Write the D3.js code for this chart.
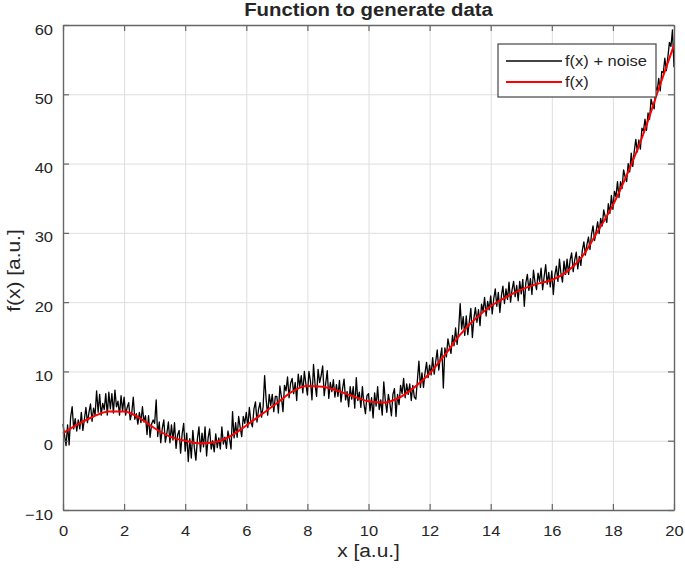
<!DOCTYPE html>
<html>
<head>
<meta charset="utf-8">
<script src="https://cdn.jsdelivr.net/npm/d3@7"></script>
<style>
  body { margin: 0; background: #fff; }
  text { font-family: "Liberation Sans", Arial, Helvetica, sans-serif; fill: #262626; }
</style>
</head>
<body>
<div id="chart"></div>
<script>
// ---- data ----
const xTicks = [0, 2, 4, 6, 8, 10, 12, 14, 16, 18, 20];
const yTicks = [-10, 0, 10, 20, 30, 40, 50, 60];

// f(x), sampled every 0.5
const fx = [0, 0.5, 1, 1.5, 2, 2.5, 3, 3.5, 4, 4.5, 5, 5.5, 6, 6.5, 7, 7.5, 8, 8.5, 9, 9.5,
            10, 10.5, 11, 11.5, 12, 12.5, 13, 13.5, 14, 14.5, 15, 15.5, 16, 16.5, 17, 17.5, 18, 18.5, 19, 19.5, 20];
const fy = [1.1, 2.4, 3.5, 4.2, 4.2, 3.3, 1.8, 0.6, 0.0, -0.4, -0.2, 0.7, 2.2, 3.8, 5.4, 7.1, 7.9, 7.8, 7.2, 6.4,
            5.7, 5.5, 6.2, 7.7, 9.7, 12.4, 15.3, 17.6, 19.4, 20.7, 21.8, 22.6, 23.2, 24.4, 26.6, 30.2, 34.0, 38.8, 44.3, 50.8, 57.1];

// f(x) + noise, 401 samples on 0..20 (step 0.05)
const noisy = [
  2.4, 0.8, -0.7, 2.3, -0.6, 3.4, 4.9, 1.7, 3.2, 1.4,
  3.0, 1.7, 4.1, 1.5, 3.1, 4.8, 2.6, 4.1, 5.3, 2.8,
  4.7, 3.7, 7.2, 4.1, 6.7, 3.7, 5.4, 4.5, 6.8, 3.7,
  7.0, 4.6, 6.8, 4.0, 7.3, 4.9, 5.7, 3.7, 6.5, 4.3,
  6.3, 3.7, 4.8, 5.5, 3.0, 4.0, 6.3, 3.1, 3.9, 2.4,
  4.1, 2.6, 4.9, 2.7, 3.6, 0.9, 3.6, 0.5, 2.4, 3.0,
  2.5, 5.9, 0.6, 2.7, -0.3, 1.8, 3.0, -0.2, 1.1, 2.7,
  -0.3, 2.3, 0.1, 2.6, -1.1, 0.8, 1.5, -1.8, 1.0, 2.5,
  -1.5, 1.1, -3.0, 0.3, -2.5, 1.5, -1.0, -2.8, 0.3, 2.0,
  -1.6, 1.1, -0.9, 2.0, -2.2, 0.4, 1.7, -1.2, 0.0, -1.6,
  1.0, -1.0, 0.4, -1.2, 2.0, -0.5, 0.5, -1.1, 1.4, 0.3,
  -1.2, 4.2, 0.4, 2.6, 0.5, 3.5, 1.9, 0.6, 3.5, 2.5,
  4.1, 1.9, 4.8, 2.8, 2.0, 4.6, 5.6, 2.7, 4.5, 5.5,
  3.4, 4.9, 9.4, 5.9, 3.7, 6.7, 5.1, 6.7, 4.2, 6.4,
  6.4, 4.0, 7.9, 6.3, 4.2, 8.0, 7.2, 9.2, 6.2, 8.3,
  9.0, 6.8, 8.4, 5.8, 9.6, 7.8, 9.4, 6.9, 10.0, 8.2,
  6.6, 10.0, 8.6, 5.9, 11.0, 8.2, 6.4, 10.3, 8.4, 9.4,
  10.8, 6.5, 8.3, 10.1, 6.1, 8.4, 7.1, 8.8, 6.3, 8.1,
  6.4, 8.7, 5.6, 7.5, 8.9, 5.9, 7.1, 4.9, 7.8, 6.0,
  7.8, 4.7, 9.1, 5.8, 7.0, 4.8, 7.8, 5.3, 3.9, 6.5,
  6.8, 4.3, 6.2, 3.3, 6.9, 5.0, 7.8, 4.5, 5.9, 3.7,
  8.5, 5.8, 4.1, 6.7, 5.4, 3.6, 6.7, 7.5, 3.5, 6.7,
  5.2, 8.0, 6.8, 9.0, 6.2, 8.2, 6.7, 8.2, 5.8, 8.0,
  6.3, 6.0, 8.7, 11.5, 7.7, 9.8, 7.7, 9.8, 11.3, 9.1,
  10.9, 9.5, 12.0, 9.6, 11.4, 13.1, 10.2, 12.0, 13.4, 7.6,
  13.4, 12.1, 14.7, 13.5, 12.6, 15.2, 13.7, 16.3, 13.9, 15.9,
  19.8, 16.1, 17.9, 15.2, 18.0, 15.3, 17.2, 19.1, 14.9, 17.7,
  19.2, 17.1, 18.9, 16.6, 19.7, 18.7, 20.7, 18.0, 20.1, 18.9,
  20.9, 18.3, 20.5, 21.9, 19.4, 21.4, 18.5, 20.9, 22.3, 19.8,
  21.9, 20.4, 22.9, 20.0, 21.8, 23.0, 20.8, 22.4, 20.2, 23.0,
  21.2, 23.3, 19.4, 22.8, 24.0, 21.7, 23.4, 21.1, 24.6, 22.9,
  21.8, 24.2, 23.0, 24.9, 21.8, 23.7, 25.4, 22.6, 24.3, 22.2,
  24.5, 21.1, 23.9, 25.2, 23.0, 26.2, 24.1, 22.9, 25.9, 24.0,
  26.2, 24.0, 26.1, 27.1, 24.4, 26.1, 27.2, 24.8, 26.6, 25.3,
  27.5, 28.7, 26.8, 28.3, 29.4, 27.6, 29.8, 31.0, 28.9, 30.2,
  31.6, 29.9, 32.1, 31.0, 33.3, 32.3, 31.5, 34.2, 32.8, 35.4,
  33.4, 36.0, 35.2, 37.4, 35.1, 37.4, 36.4, 39.1, 38.1, 37.4,
  40.0, 38.8, 41.5, 39.6, 41.8, 43.5, 41.7, 43.4, 42.1, 45.1,
  44.7, 46.4, 44.8, 47.3, 46.4, 49.3, 48.4, 47.9, 51.1, 50.5,
  52.3, 50.5, 53.3, 53.1, 55.2, 53.4, 55.4, 57.5, 56.9, 59.3, 53.9
];
// sample grid, like linspace(0, 20, 401)
const noisyX = d3.range(noisy.length).map(i => 20 * i / (noisy.length - 1));

const seriesNames = ["f(x) + noise", "f(x)"];
const seriesColors = ["#000000", "#ff0000"];

// ---- layout ----
let W = 685, H = 570;
let margin = {top: 25, right: 11, bottom: 60, left: 63},
    width = W - margin.left - margin.right,
    height = H - margin.top - margin.bottom;
const stretch = 1.1;   // text in the picture is a bit wider than Arial

let svg = d3.select("#chart")
  .append("svg")
    .attr("width", W)
    .attr("height", H);

let g = svg.append("g")
    .attr("transform", "translate(" + margin.left + "," + margin.top + ")");

let x = d3.scaleLinear().domain([0, 20]).range([0, width]);
let y = d3.scaleLinear().domain([-10, 60]).range([height, 0]);

// grid
g.append("g")
    .attr("transform", "translate(0," + height + ")")
    .call(d3.axisBottom(x).tickValues(xTicks).tickSize(-height).tickFormat(""))
    .call(s => s.select(".domain").remove())
    .selectAll("line").attr("stroke", "#dedede");
g.append("g")
    .call(d3.axisLeft(y).tickValues(yTicks).tickSize(-width).tickFormat(""))
    .call(s => s.select(".domain").remove())
    .selectAll("line").attr("stroke", "#dedede");

// lines
g.append("path")
    .datum(noisy)
    .attr("fill", "none")
    .attr("stroke", seriesColors[0])
    .attr("stroke-width", 1.3)
    .attr("stroke-linejoin", "round")
    .attr("d", d3.line().x((d, i) => x(noisyX[i])).y(d => y(d)));

g.append("path")
    .datum(fy)
    .attr("fill", "none")
    .attr("stroke", seriesColors[1])
    .attr("stroke-width", 2)
    .attr("d", d3.line().curve(d3.curveMonotoneX).x((d, i) => x(fx[i])).y(d => y(d)));

// axes with inward ticks on all four sides
const axisColor = "#666";
function styleAxis(s) {
  s.select(".domain").attr("stroke", axisColor).attr("stroke-width", 1.4);
  s.selectAll(".tick line").attr("stroke", axisColor).attr("stroke-width", 1.2);
  s.selectAll("text").attr("font-size", 15).attr("fill", "#3a3a3a");
}
let xAxis = g.append("g")
    .attr("transform", "translate(0," + height + ")")
    .call(d3.axisBottom(x).tickValues(xTicks).tickSizeInner(-6).tickSizeOuter(0))
    .call(styleAxis);
xAxis.selectAll("text").attr("y", 26).attr("dy", null)
    .attr("transform", "scale(" + stretch + ",1)");

let yAxis = g.append("g")
    .call(d3.axisLeft(y).tickValues(yTicks).tickSizeInner(-6).tickSizeOuter(0))
    .call(styleAxis);
yAxis.selectAll("text").attr("x", -10 / stretch).attr("dy", null).attr("y", 9)
    .attr("transform", "scale(" + stretch + ",1)");

g.append("g")
    .call(d3.axisTop(x).tickValues(xTicks).tickSizeInner(-6).tickSizeOuter(0).tickFormat(""))
    .call(styleAxis);
g.append("g")
    .attr("transform", "translate(" + width + ",0)")
    .call(d3.axisRight(y).tickValues(yTicks).tickSizeInner(-6).tickSizeOuter(0).tickFormat(""))
    .call(styleAxis);

// title and axis labels
svg.append("text")
    .attr("transform", "translate(" + (margin.left + width / 2) + ",16) scale(" + stretch + ",1)")
    .attr("text-anchor", "middle")
    .attr("font-size", 18.5)
    .attr("font-weight", "bold")
    .attr("fill", "#000")
    .text("Function to generate data");

svg.append("text")
    .attr("transform", "translate(" + (margin.left + width / 2) + ",557) scale(" + stretch + ",1)")
    .attr("text-anchor", "middle")
    .attr("font-size", 19)
    .text("x [a.u.]");

svg.append("text")
    .attr("transform", "translate(20," + (margin.top + height / 2 + 3) + ") rotate(-90) scale(" + stretch + ",1)")
    .attr("text-anchor", "middle")
    .attr("font-size", 19)
    .text("f(x) [a.u.]");

// legend
let legend = svg.append("g").attr("transform", "translate(498,44)");
legend.append("rect")
    .attr("width", 158).attr("height", 53)
    .attr("fill", "#fff").attr("stroke", "#444").attr("stroke-width", 1.2);
seriesNames.forEach((name, i) => {
  let row = legend.append("g").attr("transform", "translate(0," + (17 + i * 21) + ")");
  row.append("line")
      .attr("x1", 8).attr("x2", 64)
      .attr("stroke", i === 0 ? "#444" : seriesColors[i])
      .attr("stroke-width", 2);
  row.append("text")
      .attr("transform", "translate(67,5) scale(" + stretch + ",1)")
      .attr("font-size", 15)
      .attr("fill", "#000")
      .text(name);
});
</script>
</body>
</html>
